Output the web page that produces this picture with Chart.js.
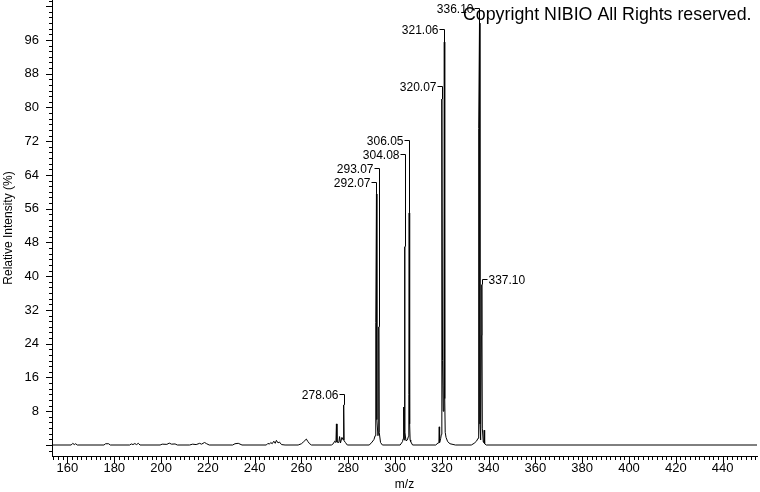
<!DOCTYPE html>
<html>
<head>
<meta charset="utf-8">
<script src="https://cdn.jsdelivr.net/npm/chart.js@4.4.1/dist/chart.umd.min.js"></script>
<style>
  html, body { margin: 0; padding: 0; background: #fff; }
  #wrap { width: 760px; height: 492px; }
</style>
</head>
<body>
<div id="wrap"><canvas id="spec"></canvas></div>
<script>
// profile spectrum (m/z, relative intensity %)
const mz = [
  153.8, 161.6, 162.3, 162.9, 163.5, 164.2,
  175.6, 176.3, 177.6, 178.3,
  186.6, 187.3, 188.0, 188.8, 189.5, 190.3, 191.0,
  199.6, 200.5, 202.5, 203.5, 204.5, 206.0, 207.0,
  212.2, 213.5, 215.0, 216.5, 217.3, 218.6, 219.5, 220.6,
  230.6, 231.6, 233.0, 234.6,
  245.0, 245.7, 246.3, 246.9, 247.5, 248.2, 248.8, 249.3, 250.0, 250.6, 251.5, 253.0,
  258.6, 260.0, 261.0, 262.1, 262.8, 263.5, 264.3,
  272.8, 273.6, 274.2, 274.75, 274.95, 275.2, 276.0, 276.3, 276.7, 277.3, 277.85, 278.06, 278.25, 278.8, 279.6,
  289.0, 290.2, 291.0, 291.5, 291.7, 291.85, 292.07, 292.25, 292.7, 292.9, 293.07, 293.25, 293.8, 294.6,
  302.2, 303.2, 303.5, 303.7, 303.85, 304.08, 304.25, 304.7, 305.3, 305.7, 305.9, 306.05, 306.25, 306.45, 306.7, 307.5,
  317.4, 318.4, 318.75, 318.9, 319.05, 319.5, 319.8, 319.95, 320.07, 320.3, 320.6, 320.9, 321.06, 321.25, 321.45, 321.8, 322.5, 323.5, 325.8,
  332.6, 333.8, 334.8, 335.5, 335.75, 336.10, 336.3, 336.6, 336.9, 337.10, 337.3, 337.7, 337.95, 338.1, 338.3, 339.0,
  455.1
];
const intensity = [
  0, 0, 0.4, 0.1, 0.3, 0,
  0, 0.3, 0.3, 0,
  0, 0.25, 0.1, 0.35, 0.1, 0.4, 0,
  0, 0.2, 0.15, 0.45, 0.2, 0.25, 0,
  0, 0.2, 0.1, 0.4, 0.2, 0.6, 0.3, 0,
  0, 0.3, 0.4, 0,
  0, 0.4, 0.2, 0.6, 0.3, 0.9, 0.4, 1.1, 0.5, 0.7, 0.1, 0,
  0, 0.3, 0.8, 1.4, 0.8, 0.3, 0,
  0, 0.3, 0.9, 0.6, 5.0, 0.7, 0.6, 2.0, 0.5, 1.8, 1.2, 9.5, 1.0, 0.6, 0,
  0, 0.7, 1.3, 2.2, 3.5, 29, 59.5, 6, 2.2, 3, 28, 3, 0.6, 0,
  0, 0.8, 1.5, 9, 1.2, 47, 3, 1, 1.2, 2, 12, 55, 5, 1.2, 0.8, 0,
  0, 0.5, 0.6, 4.3, 0.6, 1.5, 2.5, 11, 82, 20, 8, 14, 95.5, 11, 3, 1.8, 0.8, 0.3, 0,
  0, 0.4, 0.9, 1.6, 75, 100, 5, 1.2, 26, 38, 4, 0.8, 0.6, 3.5, 0.3, 0,
  0
];

// annotated peaks
const peakMz = [278.06, 292.07, 293.07, 304.08, 306.05, 320.07, 321.06, 336.10, 337.10];
const peakLabelLevel = [12.2, 62.3, 65.6, 69.0, 72.2, 85.1, 98.5, 103.5, 39.3];
const peakLabelSide = ["left", "left", "left", "left", "left", "left", "left", "left", "right"];

const xTicks = [160, 180, 200, 220, 240, 260, 280, 300, 320, 340, 360, 380, 400, 420, 440];
const yTicks = [8, 16, 24, 32, 40, 48, 56, 64, 72, 80, 88, 96];

const FONT = "'Liberation Sans', Arial, sans-serif";

const tickMarks = {
  id: "tickMarks",
  afterDraw(chart) {
    const { ctx } = chart;
    const x = chart.scales.x, y = chart.scales.y;
    ctx.save();
    ctx.strokeStyle = "#000";
    ctx.lineWidth = 1;
    ctx.beginPath();
    for (let v = Math.ceil(x.min / 2) * 2; v <= x.max; v += 2) {
      const px = Math.round(x.getPixelForValue(v)) + 0.5;
      const len = v % 20 === 0 ? 7 : 4;
      ctx.moveTo(px, x.top);
      ctx.lineTo(px, x.top + len);
    }
    for (let k = Math.ceil(y.min * 0.75); (k * 4) / 3 <= y.max; k++) {
      const py = Math.round(y.getPixelForValue((k * 4) / 3)) + 0.5;
      const len = k % 6 === 0 ? 6 : 3;
      ctx.moveTo(y.right, py);
      ctx.lineTo(y.right - len, py);
    }
    ctx.stroke();
    ctx.restore();
  },
};

const peakLabels = {
  id: "peakLabels",
  afterDatasetsDraw(chart) {
    const { ctx } = chart;
    const x = chart.scales.x, y = chart.scales.y;
    ctx.save();
    ctx.strokeStyle = "#000";
    ctx.fillStyle = "#000";
    ctx.lineWidth = 1;
    ctx.font = "12px " + FONT;
    ctx.textBaseline = "middle";
    peakMz.forEach((m, i) => {
      const top = intensity[mz.indexOf(m)];
      const xp = Math.round(x.getPixelForValue(m)) + 0.5;
      const ly = Math.round(y.getPixelForValue(peakLabelLevel[i])) + 0.5;
      const py = y.getPixelForValue(top);
      const dir = peakLabelSide[i] === "right" ? 1 : -1;
      ctx.beginPath();
      ctx.moveTo(xp, py);
      ctx.lineTo(xp, ly);
      ctx.lineTo(xp + dir * 5, ly);
      ctx.stroke();
      ctx.textAlign = dir > 0 ? "left" : "right";
      ctx.fillText(m.toFixed(2), xp + dir * 6, ly + 1);
    });
    ctx.font = "17.8px " + FONT;
    ctx.textAlign = "left";
    ctx.textBaseline = "alphabetic";
    ctx.fillText("Copyright NIBIO All Rights reserved.", 463, 20);
    ctx.restore();
  },
};

new Chart(document.getElementById("spec"), {
  type: "line",
  data: {
    datasets: [
      {
        data: mz.map((m, i) => ({ x: m, y: intensity[i] })),
        borderColor: "#000",
        borderWidth: 1,
        pointRadius: 0,
        tension: 0,
        fill: false,
      },
    ],
  },
  options: {
    responsive: true,
    maintainAspectRatio: false,
    animation: false,
    layout: { padding: { top: 0, right: 3, bottom: 0, left: 0 } },
    plugins: { legend: { display: false }, tooltip: { enabled: false } },
    scales: {
      x: {
        type: "linear",
        min: 153.4,
        max: 454.7,
        grid: { display: false, drawTicks: false, tickLength: 0 },
        border: { display: true, color: "#000", width: 1 },
        afterBuildTicks: (s) => { s.ticks = xTicks.map((v) => ({ value: v })); },
        afterFit: (s) => { s.height = 36; s.paddingLeft = 0; s.paddingRight = 0; },
        ticks: {
          color: "#000",
          padding: 5,
          maxRotation: 0,
          autoSkip: false,
          font: { family: FONT, size: 13 },
        },
        title: {
          display: true,
          text: "m/z",
          color: "#000",
          padding: 0,
          font: { family: FONT, size: 12 },
        },
      },
      y: {
        type: "linear",
        min: -2.607,
        max: 105.47,
        grid: { display: false, drawTicks: false, tickLength: 0 },
        border: { display: true, color: "#000", width: 1 },
        afterBuildTicks: (s) => { s.ticks = yTicks.map((v) => ({ value: v })); },
        afterFit: (s) => { s.width = 52; s.paddingTop = 0; s.paddingBottom = 0; },
        ticks: {
          color: "#000",
          padding: 13,
          autoSkip: false,
          font: { family: FONT, size: 13 },
        },
        title: {
          display: true,
          text: "Relative Intensity (%)",
          color: "#000",
          padding: { top: 1, bottom: 0 },
          font: { family: FONT, size: 12 },
        },
      },
    },
  },
  plugins: [tickMarks, peakLabels],
});
</script>
</body>
</html>
